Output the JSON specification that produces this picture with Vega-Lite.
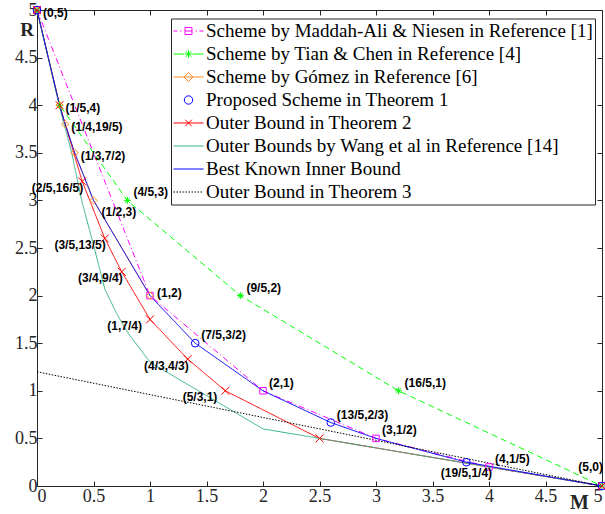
{
  "$schema": "https://vega.github.io/schema/vega-lite/v6.json",
  "width": 565,
  "height": 476,
  "autosize": "none",
  "padding": {"left": 37, "top": 10, "right": 3, "bottom": 28},
  "background": "white",
  "config": {
    "view": {"stroke": "#262626", "strokeWidth": 1},
    "axis": {"grid": false, "domainColor": "#262626", "tickColor": "#262626", "labelColor": "#262626", "labelFont": "Liberation Serif", "labelFontSize": 18, "tickSize": -5, "domain": false}
  },
  "datasets": {
    "curves": [
      {"series": "Scheme by Maddah-Ali & Niesen in Reference [1]", "M": 0, "R": 5},
      {"series": "Scheme by Maddah-Ali & Niesen in Reference [1]", "M": 1, "R": 2},
      {"series": "Scheme by Maddah-Ali & Niesen in Reference [1]", "M": 2, "R": 1},
      {"series": "Scheme by Maddah-Ali & Niesen in Reference [1]", "M": 3, "R": 0.5},
      {"series": "Scheme by Maddah-Ali & Niesen in Reference [1]", "M": 4, "R": 0.2},
      {"series": "Scheme by Maddah-Ali & Niesen in Reference [1]", "M": 5, "R": 0},
      {"series": "Scheme by Tian & Chen in Reference [4]", "M": 0, "R": 5},
      {"series": "Scheme by Tian & Chen in Reference [4]", "M": 0.2, "R": 4},
      {"series": "Scheme by Tian & Chen in Reference [4]", "M": 0.8, "R": 3},
      {"series": "Scheme by Tian & Chen in Reference [4]", "M": 1.8, "R": 2},
      {"series": "Scheme by Tian & Chen in Reference [4]", "M": 3.2, "R": 1},
      {"series": "Scheme by Tian & Chen in Reference [4]", "M": 5, "R": 0},
      {"series": "Scheme by Gómez in Reference [6]", "M": 0, "R": 5},
      {"series": "Scheme by Gómez in Reference [6]", "M": 0.2, "R": 4},
      {"series": "Scheme by Gómez in Reference [6]", "M": 0.25, "R": 3.8},
      {"series": "Scheme by Gómez in Reference [6]", "M": 0.3333, "R": 3.5},
      {"series": "Scheme by Gómez in Reference [6]", "M": 0.5, "R": 3},
      {"series": "Scheme by Gómez in Reference [6]", "M": 1, "R": 2},
      {"series": "Proposed Scheme in Theorem 1", "M": 0, "R": 5},
      {"series": "Proposed Scheme in Theorem 1", "M": 1.4, "R": 1.5},
      {"series": "Proposed Scheme in Theorem 1", "M": 2.6, "R": 0.6667},
      {"series": "Proposed Scheme in Theorem 1", "M": 3.8, "R": 0.25},
      {"series": "Proposed Scheme in Theorem 1", "M": 5, "R": 0},
      {"series": "Outer Bound in Theorem 2", "M": 0, "R": 5},
      {"series": "Outer Bound in Theorem 2", "M": 0.2, "R": 4},
      {"series": "Outer Bound in Theorem 2", "M": 0.4, "R": 3.2},
      {"series": "Outer Bound in Theorem 2", "M": 0.6, "R": 2.6},
      {"series": "Outer Bound in Theorem 2", "M": 0.75, "R": 2.25},
      {"series": "Outer Bound in Theorem 2", "M": 1, "R": 1.75},
      {"series": "Outer Bound in Theorem 2", "M": 1.3333, "R": 1.3333},
      {"series": "Outer Bound in Theorem 2", "M": 1.6667, "R": 1},
      {"series": "Outer Bound in Theorem 2", "M": 2.5, "R": 0.5},
      {"series": "Outer Bound in Theorem 2", "M": 5, "R": 0},
      {"series": "Outer Bounds by Wang et al in Reference [14]", "M": 0, "R": 5},
      {"series": "Outer Bounds by Wang et al in Reference [14]", "M": 0.2, "R": 3.98},
      {"series": "Outer Bounds by Wang et al in Reference [14]", "M": 0.307, "R": 3.5},
      {"series": "Outer Bounds by Wang et al in Reference [14]", "M": 0.395, "R": 3.0},
      {"series": "Outer Bounds by Wang et al in Reference [14]", "M": 0.507, "R": 2.5},
      {"series": "Outer Bounds by Wang et al in Reference [14]", "M": 0.6, "R": 2.07},
      {"series": "Outer Bounds by Wang et al in Reference [14]", "M": 0.705, "R": 1.81},
      {"series": "Outer Bounds by Wang et al in Reference [14]", "M": 0.81, "R": 1.6},
      {"series": "Outer Bounds by Wang et al in Reference [14]", "M": 1.0, "R": 1.3},
      {"series": "Outer Bounds by Wang et al in Reference [14]", "M": 2.0, "R": 0.6},
      {"series": "Outer Bounds by Wang et al in Reference [14]", "M": 2.5, "R": 0.5},
      {"series": "Outer Bounds by Wang et al in Reference [14]", "M": 5, "R": 0},
      {"series": "Best Known Inner Bound", "M": 0, "R": 5},
      {"series": "Best Known Inner Bound", "M": 0.2, "R": 4},
      {"series": "Best Known Inner Bound", "M": 0.25, "R": 3.8},
      {"series": "Best Known Inner Bound", "M": 0.3333, "R": 3.5},
      {"series": "Best Known Inner Bound", "M": 0.5, "R": 3},
      {"series": "Best Known Inner Bound", "M": 1, "R": 2},
      {"series": "Best Known Inner Bound", "M": 1.4, "R": 1.5},
      {"series": "Best Known Inner Bound", "M": 2, "R": 1},
      {"series": "Best Known Inner Bound", "M": 2.6, "R": 0.6667},
      {"series": "Best Known Inner Bound", "M": 3, "R": 0.5},
      {"series": "Best Known Inner Bound", "M": 3.8, "R": 0.25},
      {"series": "Best Known Inner Bound", "M": 5, "R": 0},
      {"series": "Outer Bound in Theorem 3", "M": 0, "R": 1.2},
      {"series": "Outer Bound in Theorem 3", "M": 5, "R": 0}
    ],
    "labels": [
      {"label": "(0,5)", "M": 0, "R": 5},
      {"label": "(1/5,4)", "M": 0.2, "R": 4},
      {"label": "(1/4,19/5)", "M": 0.25, "R": 3.8},
      {"label": "(1/3,7/2)", "M": 0.3333, "R": 3.5},
      {"label": "(2/5,16/5)", "M": 0.4, "R": 3.2},
      {"label": "(4/5,3)", "M": 0.8, "R": 3},
      {"label": "(1/2,3)", "M": 0.5, "R": 3},
      {"label": "(3/5,13/5)", "M": 0.6, "R": 2.6},
      {"label": "(3/4,9/4)", "M": 0.75, "R": 2.25},
      {"label": "(1,2)", "M": 1, "R": 2},
      {"label": "(1,7/4)", "M": 1, "R": 1.75},
      {"label": "(9/5,2)", "M": 1.8, "R": 2},
      {"label": "(7/5,3/2)", "M": 1.4, "R": 1.5},
      {"label": "(4/3,4/3)", "M": 1.3333, "R": 1.3333},
      {"label": "(5/3,1)", "M": 1.6667, "R": 1},
      {"label": "(2,1)", "M": 2, "R": 1},
      {"label": "(16/5,1)", "M": 3.2, "R": 1},
      {"label": "(13/5,2/3)", "M": 2.6, "R": 0.6667},
      {"label": "(3,1/2)", "M": 3, "R": 0.5},
      {"label": "(4,1/5)", "M": 4, "R": 0.2},
      {"label": "(19/5,1/4)", "M": 3.8, "R": 0.25},
      {"label": "(5,0)", "M": 5, "R": 0}
    ]
  },
  "layer": [
    {
      "data": {"name": "curves"},
      "transform": [{"filter": "datum.series !== 'Proposed Scheme in Theorem 1'"}],
      "mark": {"type": "line", "strokeWidth": 1, "clip": false},
      "encoding": {
        "x": {"field": "M", "type": "quantitative", "scale": {"domain": [0, 5], "nice": false},
              "axis": {"orient": "bottom", "title": "M", "values": [0,0.5,1,1.5,2,2.5,3,3.5,4,4.5,5], "format": "~g", "labelPadding": 6,
                       "titleFont": "Liberation Serif", "titleFontWeight": "bold", "titleFontSize": 20, "titleColor": "#262626",
                       "titleX": 542, "titleY": 22, "titleAlign": "center", "titleBaseline": "alphabetic"}},
        "y": {"field": "R", "type": "quantitative", "scale": {"domain": [0, 5], "nice": false},
              "axis": {"orient": "left", "title": "R", "values": [0,0.5,1,1.5,2,2.5,3,3.5,4,4.5,5], "format": "~g", "labelPadding": 5,
                       "titleFont": "Liberation Serif", "titleFontWeight": "bold", "titleFontSize": 19, "titleColor": "#262626",
                       "titleAngle": 0, "titleX": -10.5, "titleY": 25, "titleAlign": "center", "titleBaseline": "alphabetic"}},
        "color": {"field": "series", "type": "nominal", "sort": null,
                  "scale": {"domain": ["Scheme by Maddah-Ali & Niesen in Reference [1]", "Scheme by Tian & Chen in Reference [4]", "Scheme by Gómez in Reference [6]", "Proposed Scheme in Theorem 1", "Outer Bound in Theorem 2", "Outer Bounds by Wang et al in Reference [14]", "Best Known Inner Bound", "Outer Bound in Theorem 3"],
                            "range": ["#FF00FF", "#00FF00", "#FF8C28", "#0000FF", "#FF0000", "#33B38A", "#0000FF", "#000000"]},
                  "legend": {"title": null, "orient": "none", "legendX": 134, "legendY": 8.5, "padding": 2, "rowPadding": 2.0,
                             "strokeColor": "#262626", "fillColor": "white", "cornerRadius": 0,
                             "labelFont": "Liberation Serif", "labelFontSize": 19, "labelColor": "#000000", "labelOffset": 7, "labelLimit": 500,
                             "symbolSize": 400, "symbolOffset": 5, "symbolStrokeWidth": 1.5,
                             "encode": {"symbols": {"update": {
                               "shape": {"signal": "['M-1.5,0H-1.1M-0.84,0H-0.72M-0.35,-0.35H0.35V0.35H-0.35ZM-0.35,0H0.35M0.72,0H0.84M1.1,0H1.5', 'M-1.5,0H-0.45M0.45,0H1.5M-0.4,0H0.4M0,-0.4V0.4M-0.28,-0.28L0.28,0.28M-0.28,0.28L0.28,-0.28', 'M-1.5,0H1.5M0,-0.45L0.45,0L0,0.45L-0.45,0Z', 'M0.42,0A0.42,0.42,0,1,1,-0.42,0A0.42,0.42,0,1,1,0.42,0Z', 'M-1.5,0H1.5M-0.33,-0.33L0.33,0.33M-0.33,0.33L0.33,-0.33', 'M-1.5,0H1.5', 'M-1.5,0H1.5', 'M-1.5,0H1.5'][indexof(domain('color'), datum.value)]"},
                               "strokeDash": {"signal": "indexof(domain('color'), datum.value) == 7 ? [1.5,1.5] : null"},
                               "fill": {"value": "transparent"},
                               "stroke": {"signal": "['#FF00FF', '#00FF00', '#FF8C28', '#0000FF', '#FF0000', '#33B38A', '#0000FF', '#000000'][indexof(domain('color'), datum.value)]"},
                               "strokeWidth": {"value": 1},
                               "opacity": {"value": 1}
                             }}}}},
        "strokeDash": {"field": "series", "type": "nominal", "legend": null,
                       "scale": {"domain": ["Scheme by Maddah-Ali & Niesen in Reference [1]", "Scheme by Tian & Chen in Reference [4]", "Scheme by Gómez in Reference [6]", "Outer Bound in Theorem 2", "Outer Bounds by Wang et al in Reference [14]", "Best Known Inner Bound", "Outer Bound in Theorem 3"],
                                 "range": [[6,3,1,3], [6,4], [1,0], [1,0], [1,0], [1,0], [1.5,1.5]]}},
        "order": {"field": "M", "type": "quantitative"}
      }
    },
    {
      "data": {"name": "curves"},
      "transform": [{"filter": "datum.series !== 'Outer Bounds by Wang et al in Reference [14]' && datum.series !== 'Best Known Inner Bound' && datum.series !== 'Outer Bound in Theorem 3'"}],
      "mark": {"type": "point", "filled": false, "strokeWidth": 1, "opacity": 1, "clip": false},
      "encoding": {
        "x": {"field": "M", "type": "quantitative", "axis": {"orient": "top", "title": null, "labels": false, "values": [0,0.5,1,1.5,2,2.5,3,3.5,4,4.5,5]}},
        "y": {"field": "R", "type": "quantitative", "axis": {"orient": "right", "title": null, "labels": false, "values": [0,0.5,1,1.5,2,2.5,3,3.5,4,4.5,5]}},
        "color": {"field": "series", "type": "nominal", "sort": null},
        "shape": {"field": "series", "type": "nominal", "legend": null,
                  "scale": {"domain": ["Scheme by Maddah-Ali & Niesen in Reference [1]", "Scheme by Tian & Chen in Reference [4]", "Scheme by Gómez in Reference [6]", "Proposed Scheme in Theorem 1", "Outer Bound in Theorem 2"],
                            "range": ["square", "M-1,0H1M0,-1V1M-0.7,-0.7L0.7,0.7M-0.7,0.7L0.7,-0.7", "diamond", "circle", "M-1,-1L1,1M-1,1L1,-1"]}},
        "size": {"field": "series", "type": "nominal", "legend": null,
                 "scale": {"domain": ["Scheme by Maddah-Ali & Niesen in Reference [1]", "Scheme by Tian & Chen in Reference [4]", "Scheme by Gómez in Reference [6]", "Proposed Scheme in Theorem 1", "Outer Bound in Theorem 2"],
                           "range": [42, 64, 60, 50, 36]}}
      }
    },
    {
      "data": {"name": "labels"},
      "transform": [{"filter": {"field": "label", "oneOf": ["(0,5)", "(1/5,4)", "(1/4,19/5)", "(1/3,7/2)"]}}],
      "mark": {"type": "text", "font": "Liberation Sans", "fontWeight": "bold", "fontSize": 12, "align": "left", "baseline": "middle", "dx": 6, "dy": 3},
      "encoding": {"x": {"field": "M", "type": "quantitative", "axis": null}, "y": {"field": "R", "type": "quantitative", "axis": null}, "text": {"field": "label"}}
    },
    {
      "data": {"name": "labels"},
      "transform": [{"filter": {"field": "label", "oneOf": ["(4/5,3)", "(9/5,2)", "(7/5,3/2)", "(2,1)", "(16/5,1)", "(13/5,2/3)", "(3,1/2)", "(4,1/5)"]}}],
      "mark": {"type": "text", "font": "Liberation Sans", "fontWeight": "bold", "fontSize": 12, "align": "left", "baseline": "middle", "dx": 6, "dy": -8},
      "encoding": {"x": {"field": "M", "type": "quantitative", "axis": null}, "y": {"field": "R", "type": "quantitative", "axis": null}, "text": {"field": "label"}}
    },
    {
      "data": {"name": "labels"},
      "transform": [{"filter": {"field": "label", "oneOf": ["(1,2)"]}}],
      "mark": {"type": "text", "font": "Liberation Sans", "fontWeight": "bold", "fontSize": 12, "align": "left", "baseline": "middle", "dx": 7, "dy": -3},
      "encoding": {"x": {"field": "M", "type": "quantitative", "axis": null}, "y": {"field": "R", "type": "quantitative", "axis": null}, "text": {"field": "label"}}
    },
    {
      "data": {"name": "labels"},
      "transform": [{"filter": {"field": "label", "oneOf": ["(1/2,3)"]}}],
      "mark": {"type": "text", "font": "Liberation Sans", "fontWeight": "bold", "fontSize": 12, "align": "left", "baseline": "middle", "dx": 8, "dy": 12},
      "encoding": {"x": {"field": "M", "type": "quantitative", "axis": null}, "y": {"field": "R", "type": "quantitative", "axis": null}, "text": {"field": "label"}}
    },
    {
      "data": {"name": "labels"},
      "transform": [{"filter": {"field": "label", "oneOf": ["(2/5,16/5)", "(3/5,13/5)", "(3/4,9/4)", "(4/3,4/3)"]}}],
      "mark": {"type": "text", "font": "Liberation Sans", "fontWeight": "bold", "fontSize": 12, "align": "right", "baseline": "middle", "dx": 1, "dy": 6.5},
      "encoding": {"x": {"field": "M", "type": "quantitative", "axis": null}, "y": {"field": "R", "type": "quantitative", "axis": null}, "text": {"field": "label"}}
    },
    {
      "data": {"name": "labels"},
      "transform": [{"filter": {"field": "label", "oneOf": ["(1,7/4)", "(5/3,1)"]}}],
      "mark": {"type": "text", "font": "Liberation Sans", "fontWeight": "bold", "fontSize": 12, "align": "right", "baseline": "middle", "dx": -8, "dy": 6.5},
      "encoding": {"x": {"field": "M", "type": "quantitative", "axis": null}, "y": {"field": "R", "type": "quantitative", "axis": null}, "text": {"field": "label"}}
    },
    {
      "data": {"name": "labels"},
      "transform": [{"filter": {"field": "label", "oneOf": ["(19/5,1/4)"]}}],
      "mark": {"type": "text", "font": "Liberation Sans", "fontWeight": "bold", "fontSize": 12, "align": "center", "baseline": "middle", "dx": 0, "dy": 11},
      "encoding": {"x": {"field": "M", "type": "quantitative", "axis": null}, "y": {"field": "R", "type": "quantitative", "axis": null}, "text": {"field": "label"}}
    },
    {
      "data": {"name": "labels"},
      "transform": [{"filter": {"field": "label", "oneOf": ["(5,0)"]}}],
      "mark": {"type": "text", "font": "Liberation Sans", "fontWeight": "bold", "fontSize": 12, "align": "right", "baseline": "middle", "dx": 1, "dy": -19},
      "encoding": {"x": {"field": "M", "type": "quantitative", "axis": null}, "y": {"field": "R", "type": "quantitative", "axis": null}, "text": {"field": "label"}}
    }
  ]
}
